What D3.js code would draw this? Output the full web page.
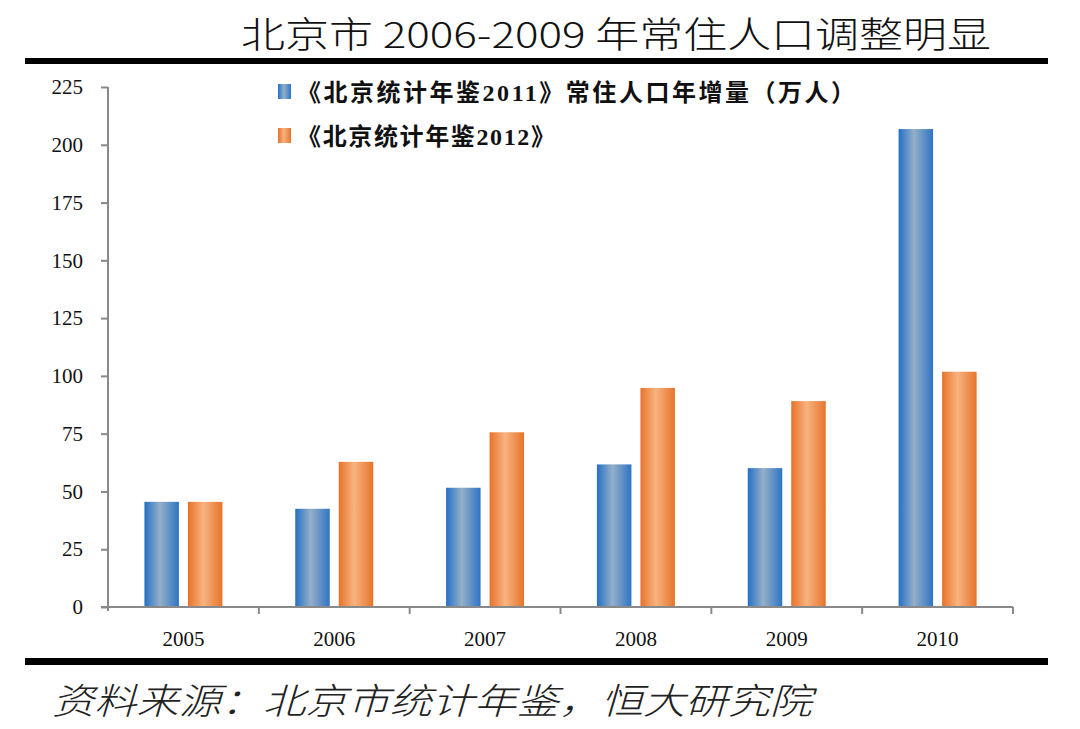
<!DOCTYPE html>
<html>
<head>
<meta charset="utf-8">
<script src="https://cdn.jsdelivr.net/npm/d3@7"></script>
<style>
  html, body { margin: 0; padding: 0; background: #fff; }
  svg { display: block; }
</style>
</head>
<body>
<svg id="chart" width="1080" height="729"></svg>
<script>
const years = ["2005", "2006", "2007", "2008", "2009", "2010"];
const seriesNames = ["《北京统计年鉴2011》常住人口年增量（万人）", "《北京统计年鉴2012》"];
const values2011 = [45.5, 42.5, 51.6, 61.7, 60.1, 206.8];
const values2012 = [45.5, 62.8, 75.6, 94.8, 89.1, 101.8];
const yTicks = [0, 25, 50, 75, 100, 125, 150, 175, 200, 225];
const titleText = "北京市 2006-2009 年常住人口调整明显";
const sourceText = "资料来源：北京市统计年鉴，恒大研究院";

(function () {
const svg = d3.select("#chart");
const defs = svg.append("defs");

function grad(id, edgeL, mid, edgeR) {
  const g = defs.append("linearGradient").attr("id", id)
    .attr("x1", "0%").attr("x2", "100%").attr("y1", "0%").attr("y2", "0%");
  g.append("stop").attr("offset", "0%").attr("stop-color", edgeL);
  g.append("stop").attr("offset", "45%").attr("stop-color", mid);
  g.append("stop").attr("offset", "100%").attr("stop-color", edgeR);
}
grad("gBlue", "#2470c6", "#94afc8", "#2e74c6");
grad("gOrange", "#e8722a", "#f7b37f", "#e6742c");
const fills = ["url(#gBlue)", "url(#gOrange)"];

const pLeft = 108, pRight = 1013, pTop = 87, pBottom = 607;

const x0 = d3.scaleBand().domain(years).range([pLeft, pRight]).padding(0);
const x1 = d3.scaleBand().domain([0, 1]).range([0, x0.bandwidth()])
  .paddingInner(0.207).paddingOuter(0.837);
const y = d3.scaleLinear().domain([0, 225]).range([pBottom, pTop]);

// Title
svg.append("text")
  .attr("x", 241).attr("y", 48)
  .attr("textLength", 750).attr("lengthAdjust", "spacingAndGlyphs")
  .attr("font-family", "'Noto Sans CJK SC', sans-serif")
  .attr("font-weight", 300)
  .attr("font-size", 36)
  .attr("fill", "#111")
  .text(titleText);

// Thick rules
svg.append("rect").attr("x", 25).attr("y", 58).attr("width", 1023).attr("height", 6).attr("fill", "#000");
svg.append("rect").attr("x", 25).attr("y", 658).attr("width", 1023).attr("height", 7).attr("fill", "#000");

// Bars
const data = years.map((yr, i) => ({ year: yr, vals: [values2011[i], values2012[i]] }));
const groups = svg.append("g").selectAll("g").data(data).join("g")
  .attr("transform", d => `translate(${x0(d.year)},0)`);
groups.selectAll("rect").data(d => d.vals.map((v, k) => ({ v, k }))).join("rect")
  .attr("x", d => x1(d.k))
  .attr("width", x1.bandwidth())
  .attr("y", d => y(d.v))
  .attr("height", d => y(0) - y(d.v))
  .attr("fill", d => fills[d.k]);

// Y axis
const yAxis = svg.append("g").attr("transform", `translate(${pLeft},0)`)
  .call(d3.axisLeft(y).tickValues(yTicks).tickSize(7).tickSizeOuter(0).tickPadding(18));
yAxis.select(".domain").attr("stroke", "#898989").attr("stroke-width", 2)
  .attr("d", `M0,${pTop}V${pBottom + 4}`);
yAxis.selectAll(".tick line").attr("stroke", "#898989").attr("stroke-width", 2);
yAxis.selectAll(".tick text")
  .attr("font-family", "'Liberation Serif', 'Times New Roman', serif")
  .attr("font-size", 21).attr("fill", "#111");

// X axis
const xAxis = svg.append("g").attr("transform", `translate(0,${pBottom})`)
  .call(d3.axisBottom(x0).tickSize(0).tickPadding(24));
xAxis.select(".domain").attr("stroke", "#898989").attr("stroke-width", 2)
  .attr("d", `M${pLeft - 7},0H${pRight}`);
xAxis.selectAll(".tick text")
  .attr("font-family", "'Liberation Serif', 'Times New Roman', serif")
  .attr("font-size", 21).attr("fill", "#111");
const boundaries = years.map(yr => x0(yr)).concat([pRight]).slice(1);
xAxis.append("g").selectAll("line").data(boundaries).join("line")
  .attr("x1", d => d).attr("x2", d => d).attr("y1", 0).attr("y2", 7)
  .attr("stroke", "#898989").attr("stroke-width", 2);

// Legend
const legend = svg.append("g");
const legendY = [92, 136];
const legendLen = [558, 258];
seriesNames.forEach((name, i) => {
  legend.append("rect").attr("x", 278).attr("y", legendY[i] - 8)
    .attr("width", 13).attr("height", 15).attr("fill", fills[i]);
  legend.append("text")
    .attr("x", 297).attr("y", legendY[i] + 9)
    .attr("textLength", legendLen[i]).attr("lengthAdjust", "spacing")
    .attr("font-family", "'Liberation Serif', 'Noto Sans CJK SC', serif")
    .attr("font-weight", 700)
    .attr("font-size", 24)
    .attr("fill", "#111")
    .text(name);
});

// Source
svg.append("text")
  .attr("x", 52).attr("y", 714)
  .attr("textLength", 760).attr("lengthAdjust", "spacingAndGlyphs")
  .attr("font-family", "'Noto Sans CJK SC', sans-serif")
  .attr("font-weight", 300)
  .attr("font-style", "italic")
  .attr("font-size", 36)
  .attr("fill", "#222")
  .text(sourceText);
})();
</script>
</body>
</html>
